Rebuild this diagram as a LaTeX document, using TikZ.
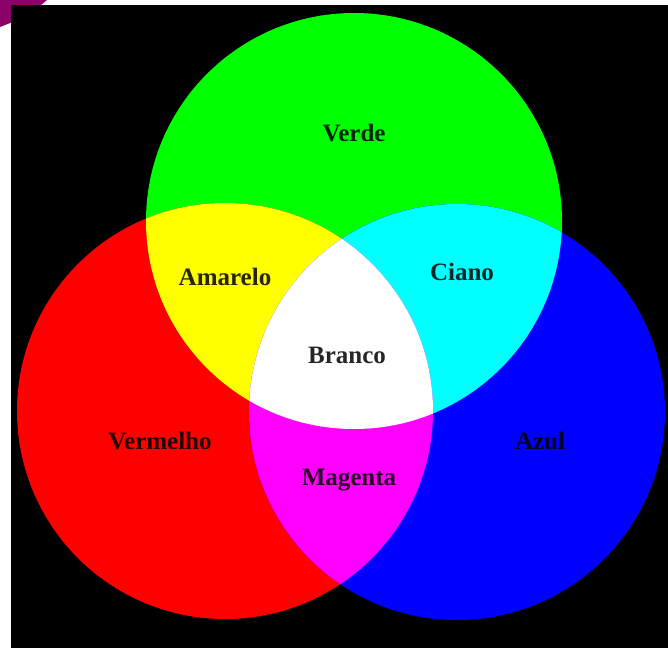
\documentclass[tikz,border=0pt]{standalone}
\usepackage{fontspec}
\setmainfont{Liberation Serif}
\definecolor{purp}{RGB}{140,0,105}
\definecolor{pgreen}{RGB}{0,255,0}
\definecolor{pred}{RGB}{255,0,0}
\definecolor{pblue}{RGB}{0,0,255}
\definecolor{pyellow}{RGB}{255,255,0}
\definecolor{pcyan}{RGB}{0,255,255}
\definecolor{pmagenta}{RGB}{255,0,255}
\begin{document}
\begin{tikzpicture}[x=1pt,y=-1pt,
  lab/.style={font=\fontsize{25}{27}\selectfont\bfseries, text=black, text opacity=0.85, inner sep=0pt}]
\useasboundingbox (0,0) rectangle (668,648);
\fill[white] (0,0) rectangle (668,648);
\fill[purp] (0,0) -- (47,0) .. controls (28,16) .. (0,27) -- cycle;
\fill[black] (11,5) rectangle (668,648);
% primary circles
\fill[pgreen] (354,221) circle[radius=208pt];
\fill[pred] (225,411) circle[radius=208pt];
\fill[pblue] (457,412) circle[radius=208pt];
% yellow = red & green
\begin{scope}
  \clip (225,411) circle[radius=208pt];
  \fill[pyellow] (354,221) circle[radius=208pt];
\end{scope}
% cyan = green & blue
\begin{scope}
  \clip (457,412) circle[radius=208pt];
  \fill[pcyan] (354,221) circle[radius=208pt];
\end{scope}
% magenta = red & blue
\begin{scope}
  \clip (457,412) circle[radius=208pt];
  \fill[pmagenta] (225,411) circle[radius=208pt];
\end{scope}
% white = all three
\begin{scope}
  \clip (457,412) circle[radius=208pt];
  \clip (225,411) circle[radius=208pt];
  \fill[white] (354,221) circle[radius=208pt];
\end{scope}
\node[lab] (verde) at (354,133) {Verde};
\node[lab] (amarelo) at (225,277) {Amarelo};
\node[lab] (ciano) at (462,272) {Ciano};
\node[lab] (branco) at (347,355) {Branco};
\node[lab] (vermelho) at (160,441) {Vermelho};
\node[lab] (azul) at (540,441) {Azul};
\node[lab] (magenta) at (349,480) {Magenta};
\end{tikzpicture}
\end{document}
